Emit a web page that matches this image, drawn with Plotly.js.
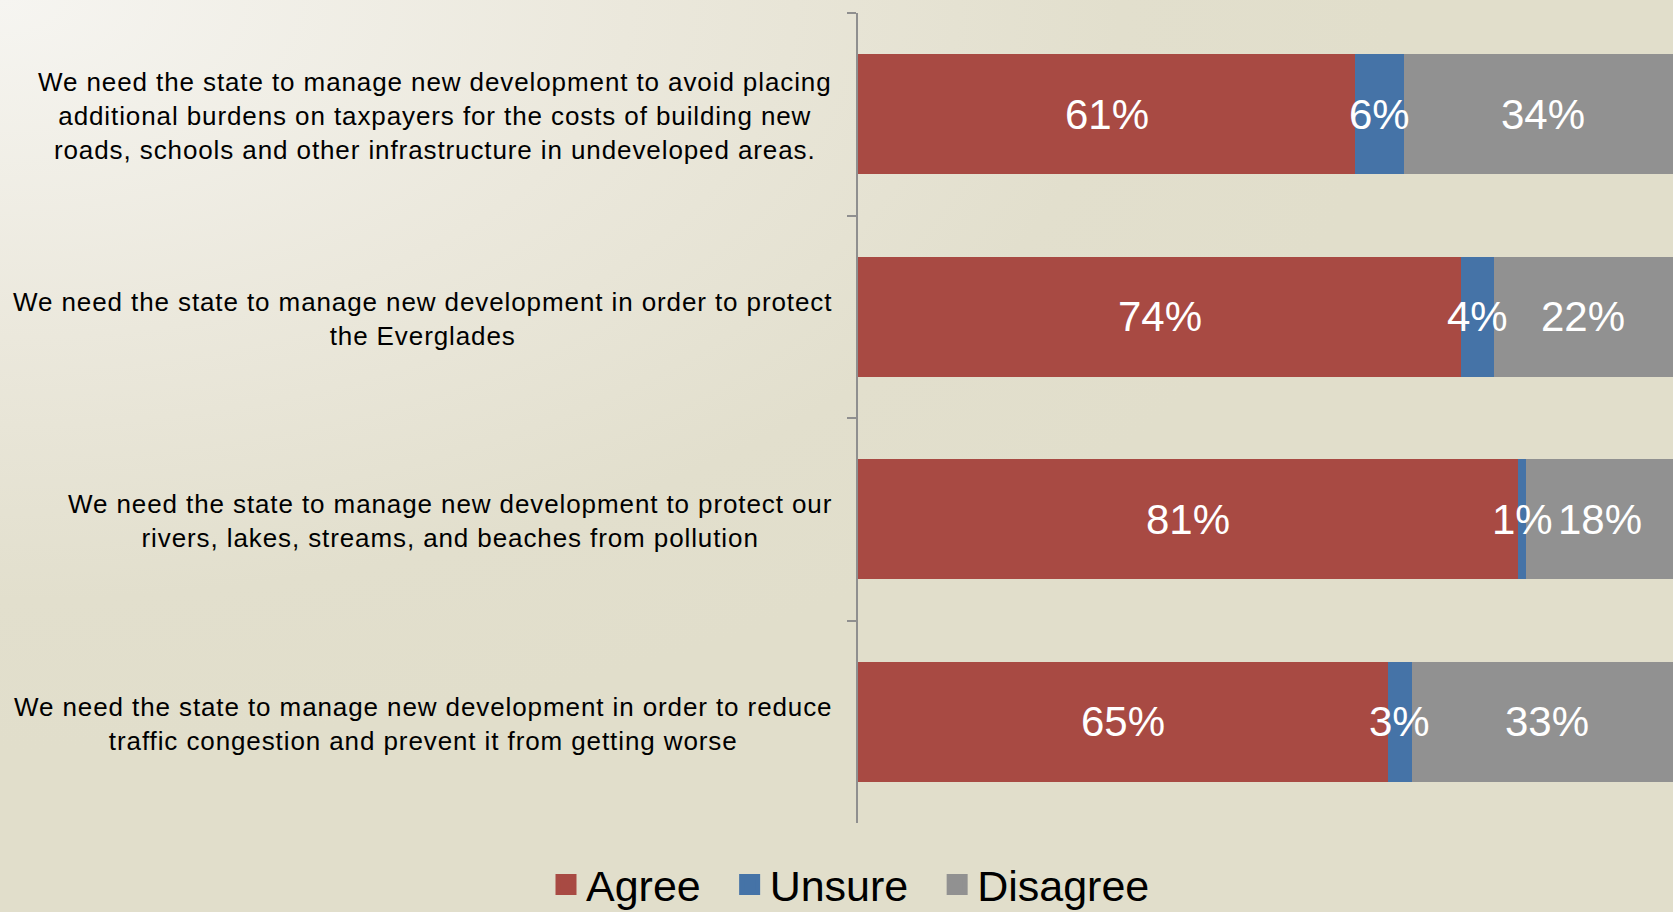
<!DOCTYPE html>
<html>
<head>
<meta charset="utf-8">
<script src="https://cdn.plot.ly/plotly-3.0.1.min.js"></script>
<style>
  html, body { margin: 0; padding: 0; }
  body {
    width: 1673px; height: 912px; overflow: hidden;
    background: radial-gradient(ellipse 1400px 750px at 0 0, #f6f5f1 0%, #ebe8dc 45%, #e2dfcd 80%, #e1decb 100%);
  }
  #chart { width: 1673px; height: 912px; }
  /* wider tracking for the 26px category labels only */
  .annotation-text[style*="font-size: 26px"] { letter-spacing: 0.9px; }
</style>
</head>
<body>
<div id="chart"></div>
<script>
const categories = [
  "We need the state to manage new development to avoid placing<br>additional burdens on taxpayers for the costs of building new<br>roads, schools and other infrastructure in undeveloped areas.",
  "We need the state to manage new development in order to protect<br>the Everglades",
  "We need the state to manage new development to protect our<br>rivers, lakes, streams, and beaches from pollution",
  "We need the state to manage new development in order to reduce<br>traffic congestion and prevent it from getting worse"
];
const agree = [61, 74, 81, 65];
const unsure = [6, 4, 1, 3];
const disagree = [34, 22, 18, 33];
const seriesNames = ["Agree", "Unsure", "Disagree"];
const seriesColors = ["#a84a43", "#4573a7", "#919191"];

const FONT = "Liberation Sans, Arial, sans-serif";
const series = [agree, unsure, disagree];

const data = [];
// stacked bars (clipped at 100 by the axis range, as in the original)
series.forEach((vals, i) => {
  data.push({
    type: "bar", orientation: "h",
    name: seriesNames[i],
    y: categories, x: vals,
    marker: { color: seriesColors[i], line: { width: 0 } },
    showlegend: false,
    hoverinfo: "skip"
  });
});
// legend entries
const gap = "\u00a0\u00a0";
seriesNames.forEach((n, i) => {
  data.push({
    type: "scatter", mode: "markers",
    name: i < seriesNames.length - 1 ? n + gap : n,
    x: [null], y: [null],
    marker: { symbol: "square", size: 16, color: seriesColors[i],
              line: { color: seriesColors[i], width: 6 } },
    showlegend: true, hoverinfo: "skip"
  });
});

// category labels (centred lines, right-aligned block)
const annotations = categories.map(c => ({
  xref: "paper", yref: "y",
  x: 0, y: c,
  xanchor: "right", yanchor: "middle",
  xshift: -24, yshift: -2,
  text: c,
  align: "center",
  showarrow: false,
  font: { size: 26, color: "#000000", family: FONT }
}));
// value labels centred on each stacked segment, drawn above all bars
categories.forEach((c, j) => {
  let base = 0;
  series.forEach(vals => {
    annotations.push({
      xref: "x", yref: "y",
      x: base + vals[j] / 2, y: c,
      xanchor: "center", yanchor: "middle",
      text: vals[j] + "%",
      showarrow: false,
      font: { size: 42, color: "#ffffff", family: FONT }
    });
    base += vals[j];
  });
});

const layout = {
  width: 1673, height: 912,
  margin: { l: 858, r: 0, t: 13, b: 89, pad: 0 },
  paper_bgcolor: "rgba(0,0,0,0)",
  plot_bgcolor: "rgba(0,0,0,0)",
  barmode: "stack",
  bargap: 0.407,
  showlegend: true,
  legend: {
    orientation: "h",
    xref: "container", yref: "container",
    x: 546 / 1673, xanchor: "left",
    y: 0.03, yanchor: "middle",
    font: { size: 43, color: "#000000", family: FONT },
    traceorder: "normal",
    itemsizing: "trace",
    bgcolor: "rgba(0,0,0,0)"
  },
  xaxis: {
    range: [0, 100],
    visible: false,
    showgrid: false, zeroline: false, fixedrange: true
  },
  yaxis: {
    type: "category",
    autorange: "reversed",
    showline: true, linecolor: "#8f8f8f", linewidth: 2,
    ticks: "outside", ticklen: 9, tickwidth: 2, tickcolor: "#8f8f8f",
    tickson: "boundaries",
    showticklabels: false,
    showgrid: false, zeroline: false, fixedrange: true
  },
  annotations: annotations,
  hovermode: false
};

Plotly.newPlot("chart", data, layout, { displayModeBar: false, staticPlot: true });
</script>
</body>
</html>
